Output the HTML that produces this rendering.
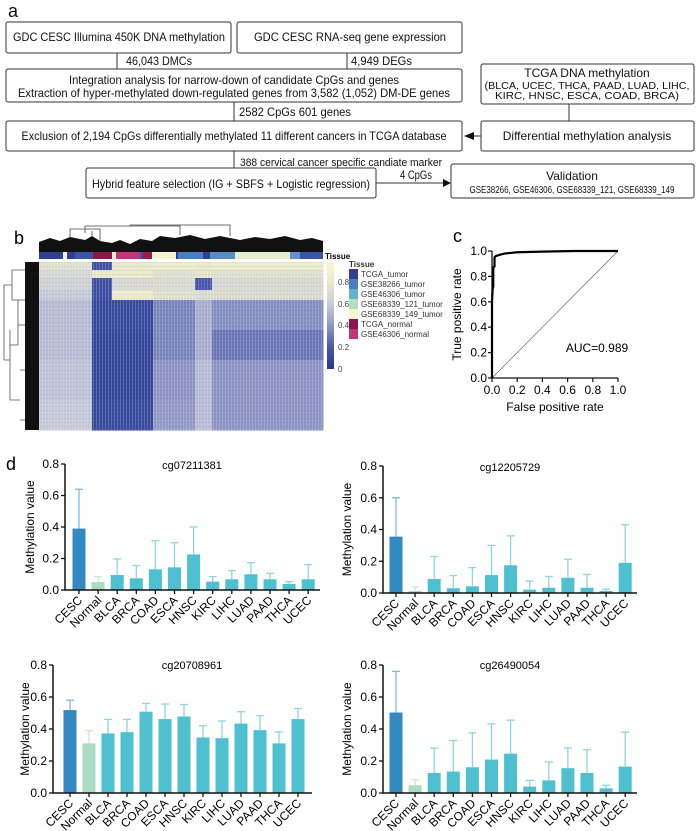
<!DOCTYPE html>
<html><head><meta charset="utf-8"><style>
html,body{margin:0;padding:0;background:#fff;}
svg{display:block;font-family:"Liberation Sans",Arial,sans-serif;}
</style></head><body>
<svg id="fig" width="700" height="831" viewBox="0 0 700 831">
<!-- Panel a -->
<g id="panel-a" font-size="12" fill="#111" stroke="none">
<text x="8" y="17" font-size="18">a</text>
<g fill="none" stroke="#333" stroke-width="1">
<rect x="6" y="22" width="225" height="31" rx="2"/>
<rect x="237" y="22" width="225" height="31" rx="2"/>
<rect x="6" y="69" width="456" height="33" rx="2"/>
<rect x="481" y="64" width="213" height="40" rx="2"/>
<rect x="6" y="121" width="456" height="30" rx="2"/>
<rect x="481" y="121" width="213" height="30" rx="2"/>
<rect x="86" y="168" width="290" height="30" rx="2"/>
<rect x="451" y="164" width="243" height="34" rx="2"/>
<line x1="117" y1="53" x2="117" y2="69"/><line x1="347" y1="53" x2="347" y2="69"/>
<line x1="234" y1="102" x2="234" y2="121"/><line x1="234" y1="151" x2="234" y2="168"/>
<line x1="569" y1="104" x2="569" y2="121"/>
<line x1="481" y1="136" x2="472" y2="136"/>
<line x1="376" y1="183" x2="445" y2="183"/>
</g>
<polygon points="464,136 474,132 474,140" fill="#111"/>
<polygon points="451,183 443,179 443,187" fill="#111"/>
<text x="13" y="41" textLength="212" lengthAdjust="spacingAndGlyphs">GDC CESC Illumina 450K DNA methylation</text>
<text x="254" y="41" textLength="192" lengthAdjust="spacingAndGlyphs">GDC CESC RNA-seq gene expression</text>
<text x="126" y="65" textLength="66" lengthAdjust="spacingAndGlyphs">46,043 DMCs</text>
<text x="351" y="65" textLength="61" lengthAdjust="spacingAndGlyphs">4,949 DEGs</text>
<text x="234" y="84" text-anchor="middle" textLength="330" lengthAdjust="spacingAndGlyphs">Integration analysis for narrow-down of candidate CpGs and genes</text>
<text x="234" y="97" text-anchor="middle" textLength="432" lengthAdjust="spacingAndGlyphs">Extraction of hyper-methylated down-regulated genes from 3,582 (1,052) DM-DE genes</text>
<text x="587" y="77" text-anchor="middle">TCGA DNA methylation</text>
<text x="587" y="89" font-size="10" text-anchor="middle" textLength="205" lengthAdjust="spacingAndGlyphs">(BLCA, UCEC, THCA, PAAD, LUAD, LIHC,</text>
<text x="587" y="99" font-size="10" text-anchor="middle" textLength="184" lengthAdjust="spacingAndGlyphs">KIRC, HNSC, ESCA, COAD, BRCA)</text>
<text x="239" y="116" textLength="112" lengthAdjust="spacingAndGlyphs">2582 CpGs 601 genes</text>
<text x="234" y="140" text-anchor="middle" textLength="425" lengthAdjust="spacingAndGlyphs">Exclusion of 2,194 CpGs differentially methylated 11 different cancers in TCGA database</text>
<text x="587" y="140" text-anchor="middle">Differential methylation analysis</text>
<text x="240" y="166" font-size="11" textLength="202" lengthAdjust="spacingAndGlyphs">388 cervical cancer specific candiate marker</text>
<text x="231" y="188" text-anchor="middle" textLength="278" lengthAdjust="spacingAndGlyphs">Hybrid feature selection (IG + SBFS + Logistic regression)</text>
<text x="400" y="179" textLength="32" lengthAdjust="spacingAndGlyphs">4 CpGs</text>
<text x="572" y="180" text-anchor="middle">Validation</text>
<text x="572" y="193" font-size="10" text-anchor="middle" textLength="205" lengthAdjust="spacingAndGlyphs">GSE38266, GSE46306, GSE68339_121, GSE68339_149</text>
</g>

<!-- Panel b -->
<g id="panel-b">
<text x="14" y="244" font-size="18">b</text>
<defs>
<linearGradient id="cbar" x1="0" y1="1" x2="0" y2="0">
<stop offset="0" stop-color="#27388f"/><stop offset="0.2" stop-color="#4757ab"/><stop offset="0.4" stop-color="#8e96c6"/><stop offset="0.6" stop-color="#c7cadb"/><stop offset="0.8" stop-color="#e8e8cc"/><stop offset="1" stop-color="#fbf8cf"/>
</linearGradient>
<pattern id="vstripe" width="3" height="4" patternUnits="userSpaceOnUse"><rect x="0" y="0" width="1" height="4" fill="#fff" opacity="0.18"/><rect x="0" y="2" width="3" height="1" fill="#000" opacity="0.05"/></pattern>
</defs>
<g id="dendro-top"></g>
<g id="annot"></g>
<text x="325" y="259" font-size="8" font-weight="bold">Tissue</text>
<g id="heat"></g>
<g id="dendro-row"></g>
<rect x="327" y="262" width="7" height="107" fill="url(#cbar)"/>
<g font-size="8" fill="#444">
<text x="338" y="285">0.8</text><text x="338" y="307">0.6</text><text x="338" y="328">0.4</text><text x="338" y="350">0.2</text><text x="338" y="372">0</text>
</g>
<g id="legend" font-size="8" fill="#333">
<text x="349" y="267" font-weight="bold">Tissue</text>
</g>
</g>

<!-- Panel c -->
<g id="panel-c">
<text x="453" y="242" font-size="18">c</text>
<g id="roc"></g>
</g>

<!-- Panel d -->
<g id="panel-d">
<text x="6" y="470" font-size="18">d</text>
<g id="bars"></g>
</g>
</svg>

<script>
const NS = "http://www.w3.org/2000/svg";
function mk(tag, attrs, parent){const e=document.createElementNS(NS,tag);for(const k in attrs)e.setAttribute(k,attrs[k]);parent.appendChild(e);return e;}

/* ---------- Heatmap data ---------- */
const heatColEdges = [39, 92, 112, 153, 195, 212, 323];
const heatRowEdges = [262, 270, 278, 290, 300, 330, 360, 400, 430];
const heatValues = [
  [0.75, 0.15, 0.80, 0.85, 0.80, 0.85],
  [0.70, 0.80, 0.82, 0.75, 0.78, 0.75],
  [0.65, 0.15, 0.70, 0.72, 0.20, 0.70],
  [0.60, 0.15, 0.85, 0.75, 0.72, 0.72],
  [0.55, 0.12, 0.12, 0.35, 0.50, 0.38],
  [0.55, 0.10, 0.10, 0.35, 0.50, 0.30],
  [0.58, 0.10, 0.10, 0.40, 0.55, 0.40],
  [0.60, 0.12, 0.12, 0.42, 0.55, 0.40]
];
const annotSegments = [
  [39,63,"#2e3f94"],[63,67,"#f7f4cf"],[67,75,"#2e3f94"],[75,93,"#3a55a6"],[93,112,"#8d1848"],[112,116,"#f2f0d0"],
  [116,140,"#c2357a"],[140,143,"#3a55a6"],[143,152,"#9b1b4e"],[152,176,"#f4f2cf"],[176,178,"#2e3f94"],[178,203,"#4a7fc1"],
  [203,210,"#2e3f94"],[210,235,"#5a8cc6"],[235,290,"#e4f0cc"],[290,300,"#6a8ec8"],[300,323,"#3a55a6"]
];
const legendItems = [["TCGA_tumor","#2e3f94"],["GSE38266_tumor","#4a7fc1"],["GSE46306_tumor","#63b3c9"],["GSE68339_121_tumor","#b3dfc0"],["GSE68339_149_tumor","#f7f5cc"],["TCGA_normal","#8d1848"],["GSE46306_normal","#c2357a"]];

function cmap(v){
  const stops=[[0,[39,56,143]],[0.2,[71,87,171]],[0.4,[142,150,198]],[0.6,[199,202,219]],[0.8,[232,232,204]],[1,[251,248,207]]];
  for(let i=1;i<stops.length;i++){if(v<=stops[i][0]){const a=stops[i-1],b=stops[i];const t=(v-a[0])/(b[0]-a[0]);return "rgb("+a[1].map((c,j)=>Math.round(c+(b[1][j]-c)*t)).join(",")+")";}}
  return "rgb(251,248,207)";
}
const heat=document.getElementById("heat");
for(let r=0;r<heatValues.length;r++){for(let c=0;c<heatValues[r].length;c++){
  const cell=mk("rect",{x:heatColEdges[c],y:heatRowEdges[r],width:heatColEdges[c+1]-heatColEdges[c]+0.5,height:heatRowEdges[r+1]-heatRowEdges[r]+0.5,fill:cmap(heatValues[r][c])},heat);
  
  
}}
mk("rect",{x:39,y:262,width:284,height:168,fill:"url(#vstripe)"},heat);

const annot=document.getElementById("annot");
annotSegments.forEach(s=>{
  const a=mk("rect",{x:s[0],y:252,width:s[1]-s[0],height:7,fill:s[2]},annot);
  
  
});

const dt=document.getElementById("dendro-top");
mk("path",{d:"M39,252 L39,242 L50,238 L60,241 L70,237 L85,240 L92,236 L100,241 L112,243 L120,240 L130,244 L140,239 L152,241 L160,236 L175,238 L190,235 L205,239 L220,236 L240,240 L255,237 L270,239 L285,236 L300,240 L312,238 L323,241 L323,252 Z",fill:"#111"},dt);
mk("path",{d:"M70,237 V229 H100 V241 M85,233 V226 H180 V235 M130,226 V225 M130,225 H230 V236 M92,236 V231",fill:"none",stroke:"#444","stroke-width":0.8},dt);

const dr=document.getElementById("dendro-row");
mk("rect",{x:25,y:262,width:14,height:168,fill:"#111"},dr);
mk("path",{d:"M25,270 H12 V300 H25 M12,285 H4 V360 H10 M10,330 V400 H20 M20,370 H25 M20,420 H25 M10,345 H18 V300 M18,325 H25",fill:"none",stroke:"#555","stroke-width":0.8},dr);

const lg=document.getElementById("legend");
legendItems.forEach((it,i)=>{
  const sw=mk("rect",{x:349,y:269+i*10,width:9,height:10,fill:it[1]},lg);
  
  
  const t=mk("text",{x:361,y:277+i*10},lg);t.textContent=it[0];
  
  
});

/* ---------- ROC data ---------- */
const rocFpr = [0, 0, 0.005, 0.01, 0.01, 0.02, 0.02, 0.03, 0.06, 0.1, 0.2, 0.4, 0.65, 1.0];
const rocTpr = [0, 0.6, 0.7, 0.72, 0.87, 0.88, 0.95, 0.96, 0.97, 0.98, 0.99, 0.995, 1.0, 1.0];
const rocTicks = [0, 0.2, 0.4, 0.6, 0.8, 1.0];
(function(){
  const g=document.getElementById("roc");
  const X0=492,X1=618,Y0=378,Y1=251;
  const sx=v=>X0+(X1-X0)*v, sy=v=>Y0-(Y0-Y1)*v;
  mk("line",{x1:sx(0),y1:sy(0),x2:sx(1),y2:sy(1),stroke:"#444","stroke-width":0.6},g);
  const ax=mk("path",{d:`M${X0},${Y1} V${Y0} H${X1}`,fill:"none",stroke:"#111","stroke-width":1.3},g);
  
  
  rocTicks.forEach(t=>{
    mk("line",{x1:X0-4,y1:sy(t),x2:X0,y2:sy(t),stroke:"#111","stroke-width":1.2},g);
    mk("line",{x1:sx(t),y1:Y0,x2:sx(t),y2:Y0+4,stroke:"#111","stroke-width":1.2},g);
    const yl=mk("text",{x:X0-5,y:sy(t)+4,"font-size":12,"text-anchor":"end"},g);yl.textContent=t.toFixed(1);
    
    
    const xl=mk("text",{x:sx(t),y:Y0+16,"font-size":12,"text-anchor":"middle"},g);xl.textContent=t.toFixed(1);
    
    
  });
  const pts=rocFpr.map((f,i)=>sx(f)+","+sy(rocTpr[i])).join(" ");
  const curve=mk("polyline",{points:pts,fill:"none",stroke:"#000","stroke-width":2.2},g);
  
  
  const yt=mk("text",{x:0,y:0,"font-size":12,"text-anchor":"middle",transform:`translate(461,${(Y0+Y1)/2}) rotate(-90)`},g);yt.textContent="True positive rate";
  
  
  const xt=mk("text",{x:(X0+X1)/2,y:411,"font-size":12,"text-anchor":"middle"},g);xt.textContent="False positive rate";
  
  
  const auc=mk("text",{x:597,y:352,"font-size":12,"text-anchor":"middle"},g);auc.textContent="AUC=0.989";
  
  
})();

/* ---------- Bar chart data ---------- */
const categories = ["CESC","Normal","BLCA","BRCA","COAD","ESCA","HNSC","KIRC","LIHC","LUAD","PAAD","THCA","UCEC"];
const yTicks = [0, 0.2, 0.4, 0.6, 0.8];
const probeNames = ["cg07211381","cg12205729","cg20708961","cg26490054"];
const meanCg07211381 = [0.39,0.05,0.095,0.074,0.131,0.144,0.226,0.053,0.068,0.10,0.068,0.038,0.068];
const errCg07211381  = [0.64,0.085,0.197,0.155,0.313,0.30,0.40,0.085,0.123,0.174,0.106,0.053,0.161];
const meanCg12205729 = [0.355,0.013,0.088,0.03,0.042,0.113,0.175,0.021,0.033,0.096,0.033,0.013,0.19];
const errCg12205729  = [0.60,0.038,0.23,0.11,0.16,0.30,0.36,0.075,0.104,0.213,0.117,0.025,0.43];
const meanCg20708961 = [0.518,0.31,0.372,0.38,0.508,0.462,0.478,0.347,0.343,0.434,0.393,0.31,0.462];
const errCg20708961  = [0.58,0.39,0.46,0.46,0.56,0.556,0.553,0.42,0.45,0.508,0.483,0.382,0.528];
const meanCg26490054 = [0.503,0.048,0.125,0.134,0.161,0.209,0.246,0.04,0.079,0.155,0.125,0.029,0.165];
const errCg26490054  = [0.76,0.083,0.28,0.328,0.376,0.432,0.455,0.079,0.194,0.282,0.27,0.048,0.38];

const chartLayouts = [
  {axisX:65, y0:590, yTop:464, first:79, step:19.1, xEnd:320, titleX:192, titleY:469, yTitleX:30},
  {axisX:383, y0:593, yTop:466, first:396, step:19.1, xEnd:637, titleX:510, titleY:471, yTitleX:347},
  {axisX:53, y0:793, yTop:665, first:70, step:19, xEnd:312, titleX:192, titleY:669, yTitleX:25},
  {axisX:383, y0:793, yTop:665, first:396, step:19.1, xEnd:637, titleX:510, titleY:669, yTitleX:347}
];
const chartMeans=[meanCg07211381,meanCg12205729,meanCg20708961,meanCg26490054];
const chartErrs=[errCg07211381,errCg12205729,errCg20708961,errCg26490054];

const barsRoot=document.getElementById("bars");
chartLayouts.forEach((L,ci)=>{
  const g=mk("g",{},barsRoot);
  
  
  const yMax=yTicks[yTicks.length-1];
  const sy=v=>L.y0-(L.y0-L.yTop)*v/yMax;
  const sx=i=>L.first+L.step*i;
  const means=chartMeans[ci], errs=chartErrs[ci];
  categories.forEach((c,i)=>{
    const fill=i===0?"#3389c2":(i===1?"#a9dcc0":"#4fc0cf");
    const ecol=i===0?"#7fb8de":(i===1?"#c6eacf":"#8fd6e0");
    const el=mk("line",{x1:sx(i),y1:sy(means[i]),x2:sx(i),y2:sy(errs[i]),stroke:ecol,"stroke-width":1.3},g);
    
    
    const cap=mk("line",{x1:sx(i)-4,y1:sy(errs[i]),x2:sx(i)+4,y2:sy(errs[i]),stroke:ecol,"stroke-width":1.3},g);
    
    
    const b=mk("rect",{x:sx(i)-6.5,y:sy(means[i]),width:13,height:L.y0-sy(means[i]),fill:fill},g);
    
    
    mk("line",{x1:sx(i),y1:L.y0,x2:sx(i),y2:L.y0+4,stroke:"#111","stroke-width":1.3},g);
    const t=mk("text",{x:0,y:0,"font-size":12,"text-anchor":"end",transform:`translate(${sx(i)+4},${L.y0+11}) rotate(-45)`},g);
    t.textContent=c;
    
    
  });
  const ax=mk("path",{d:`M${L.axisX},${L.yTop} V${L.y0} H${L.xEnd}`,fill:"none",stroke:"#111","stroke-width":1.5},g);
  
  
  yTicks.forEach(t=>{
    mk("line",{x1:L.axisX-4,y1:sy(t),x2:L.axisX,y2:sy(t),stroke:"#111","stroke-width":1.3},g);
    const tl=mk("text",{x:L.axisX-6,y:sy(t)+4,"font-size":12,"text-anchor":"end"},g);
    tl.textContent=t.toFixed(1);
    
    
  });
  const tt=mk("text",{x:L.titleX,y:L.titleY,"font-size":11,"text-anchor":"middle"},g);
  tt.textContent=probeNames[ci];
  
  
  const yt=mk("text",{x:0,y:0,"font-size":12,"text-anchor":"middle",transform:`translate(${L.yTitleX+4},${(L.y0+L.yTop)/2}) rotate(-90)`},g);
  yt.textContent="Methylation value";
  
  
});
</script>
</body></html>
